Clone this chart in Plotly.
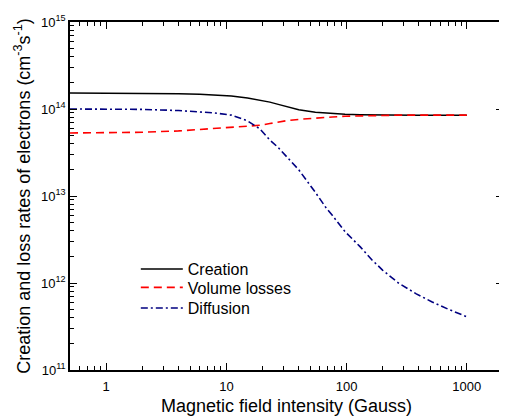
import plotly.graph_objects as go
import numpy as np

field = [0.5, 1, 2, 4, 6, 8, 11, 15, 19, 23, 27, 31, 40, 55, 68, 76, 97, 130, 162, 200, 270, 380, 510, 700, 1000]
creation = [1.53e14, 1.53e14, 1.52e14, 1.50e14, 1.48e14, 1.45e14, 1.41e14, 1.34e14, 1.27e14, 1.20e14, 1.13e14,
            1.07e14, 9.8e13, 9.2e13, 8.95e13, 8.85e13, 8.7e13, 8.6e13, 8.55e13, 8.5e13, 8.5e13, 8.5e13, 8.5e13,
            8.5e13, 8.5e13]
volume = [5.3e13, 5.35e13, 5.4e13, 5.6e13, 5.8e13, 5.95e13, 6.1e13, 6.3e13, 6.5e13, 6.8e13, 7.1e13, 7.3e13,
          7.6e13, 7.9e13, 8.05e13, 8.1e13, 8.25e13, 8.35e13, 8.4e13, 8.45e13, 8.5e13, 8.5e13, 8.5e13, 8.5e13, 8.5e13]
diffusion = [1.0e14, 1.0e14, 9.9e13, 9.6e13, 9.3e13, 9.0e13, 8.5e13, 7.3e13, 5.9e13, 4.4e13, 3.6e13, 2.95e13,
             2.0e13, 1.1e13, 7.2e12, 6.0e12, 3.9e12, 2.6e12, 1.85e12, 1.4e12, 1.0e12, 7.5e11, 6.1e11, 5.0e11, 4.1e11]

x_ticks = [1, 10, 100, 1000]
x_tick_labels = ["1", "10", "100", "1000"]
y_ticks = [1e11, 1e12, 1e13, 1e14, 1e15]
y_tick_labels = ["10<sup>11</sup>", "10<sup>12</sup>", "10<sup>13</sup>", "10<sup>14</sup>", "10<sup>15</sup>"]

FONT = "Arial, Liberation Sans, sans-serif"

fig = go.Figure()
fig.add_trace(go.Scatter(x=field, y=creation, mode="lines", name="Creation", legend="legend",
                         line=dict(color="black", width=1.5)))
fig.add_trace(go.Scatter(x=field, y=volume, mode="lines", name="Volume losses", legend="legend2",
                         line=dict(color="#ff0000", width=1.6, dash="8px,5px")))
fig.add_trace(go.Scatter(x=field, y=diffusion, mode="lines", name="Diffusion", legend="legend3",
                         line=dict(color="#000080", width=1.6, dash="7px,3px,2px,3px")))

x_minor = [m * 10 ** d for d in range(-1, 4) for m in range(2, 10) if 0.5 <= m * 10 ** d <= 2000]
y_minor = [m * 10 ** d for d in range(11, 15) for m in range(2, 10)]

fig.update_xaxes(type="log", range=[np.log10(0.5), np.log10(2000)],
                 tickmode="array", tickvals=x_ticks, ticktext=x_tick_labels,
                 ticks="inside", ticklen=7, tickwidth=1, tickcolor="black", ticklabelstandoff=4,
                 minor=dict(tickmode="array", tickvals=x_minor, ticks="inside", ticklen=4,
                            tickwidth=1, tickcolor="black", showgrid=False),
                 showline=True, linecolor="black", linewidth=1.5, mirror="allticks",
                 showgrid=False, zeroline=False,
                 tickfont=dict(family=FONT, size=13, color="black"),
                 title=dict(text="Magnetic field intensity (Gauss)",
                            font=dict(family=FONT, size=18, color="black"), standoff=6))
fig.update_yaxes(type="log", range=[11, 15],
                 tickmode="array", tickvals=y_ticks, ticktext=y_tick_labels,
                 ticks="inside", ticklen=7, tickwidth=1, tickcolor="black",
                 minor=dict(tickmode="array", tickvals=y_minor, ticks="inside", ticklen=4,
                            tickwidth=1, tickcolor="black", showgrid=False),
                 showline=True, linecolor="black", linewidth=1.5, mirror="allticks",
                 showgrid=False, zeroline=False,
                 tickfont=dict(family=FONT, size=13, color="black"),
                 title=dict(text="Creation and loss rates of electrons (cm<sup>-3</sup>s<sup>-1</sup>)",
                            font=dict(family=FONT, size=18, color="black"), standoff=6))

leg_common = dict(x=0.152, xanchor="left", yanchor="middle", bgcolor="rgba(0,0,0,0)",
                  font=dict(family=FONT, size=16, color="black"), itemwidth=42)

fig.update_layout(
    width=499, height=411,
    margin=dict(l=62, r=2, t=14, b=49),
    paper_bgcolor="white", plot_bgcolor="white",
    font=dict(family=FONT, color="black"),
    legend=dict(y=0.290, **leg_common),
    legend2=dict(y=0.237, **leg_common),
    legend3=dict(y=0.178, **leg_common),
    showlegend=True,
)

fig.write_html("out.html")
